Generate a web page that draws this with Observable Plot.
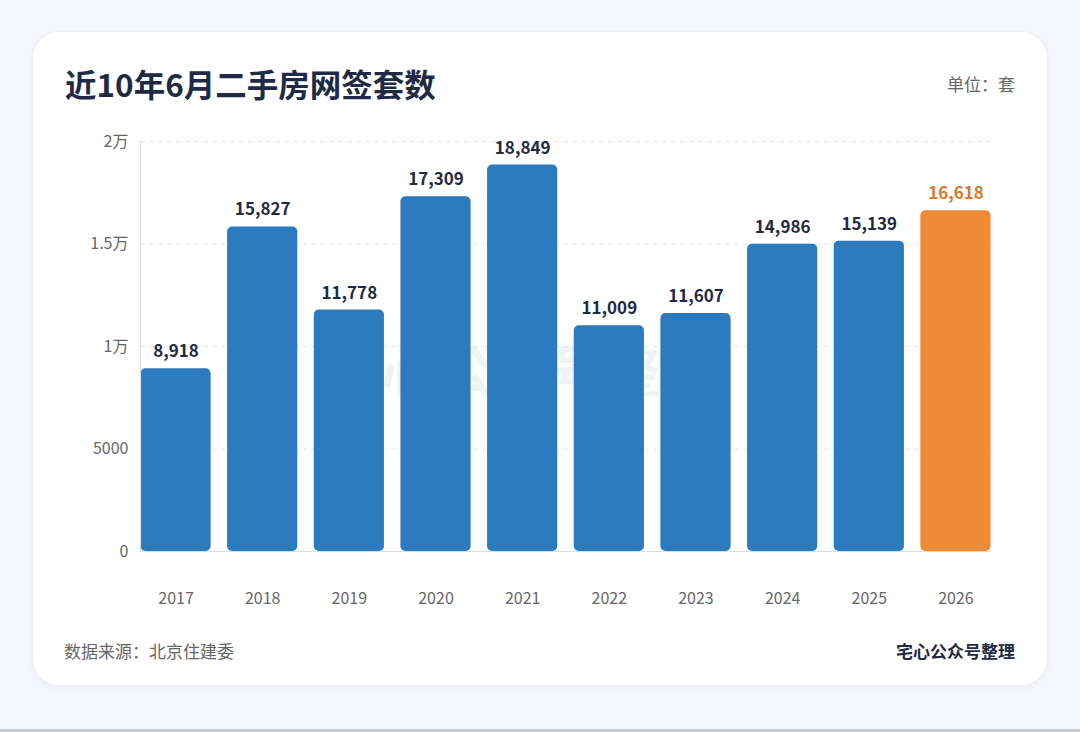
<!DOCTYPE html>
<html>
<head>
<meta charset="utf-8">
<script src="https://cdn.jsdelivr.net/npm/d3@7"></script>
<script src="https://cdn.jsdelivr.net/npm/@observablehq/plot@0.6"></script>
<style>
  html, body { margin: 0; padding: 0; }
  body { width: 1080px; height: 732px; background: #f5f6fb; position: relative; overflow: hidden;
         font-family: "Noto Sans CJK SC", "Noto Sans", sans-serif; }
  #card { position: absolute; left: 33px; top: 32px; width: 1014px; height: 653px; background: #fff;
          border-radius: 26px; box-shadow: 0 0 0 1px #eceef4, 0 2px 6px rgba(40,50,90,0.05); }
  #title { position: absolute; left: 32px; top: 28px; font-size: 31.5px; font-weight: 700; color: #1f2a44; line-height: 46px; }
  #unit { position: absolute; right: 32px; top: 40px; font-size: 17px; color: #666; line-height: 24px; }
  #source { position: absolute; left: 31px; top: 607px; font-size: 17px; color: #666; line-height: 24px; }
  #credit { position: absolute; right: 32px; top: 607px; font-size: 17px; font-weight: 700; color: #1f2a44; line-height: 24px; }
  #chart { position: absolute; left: 0; top: 88px; }
  #bottomline { position: absolute; left: 0; top: 729px; width: 1080px; height: 3px; background: #c9cbd3; }
</style>
</head>
<body>
<div id="card">
  <div id="chart"></div>
  <div id="title">近10年6月二手房网签套数</div>
  <div id="unit">单位：套</div>
  <div id="source">数据来源：北京住建委</div>
  <div id="credit">宅心公众号整理</div>
</div>
<div id="bottomline"></div>
<script>
const years = ["2017","2018","2019","2020","2021","2022","2023","2024","2025","2026"];
const counts = [8918, 15827, 11778, 17309, 18849, 11009, 11607, 14986, 15139, 16618];
const highlightYear = "2026";
const yTicks = [0, 5000, 10000, 15000, 20000];
const yTickLabels = ["0", "5000", "1万", "1.5万", "2万"];
const watermark = "宅心公众号整理";

const data = years.map((y, i) => ({year: y, value: counts[i], hi: y === highlightYear}));
const blue = "#2c7bbe", orange = "#ef8a36";

const chart = Plot.plot({
  width: 1014,
  height: 500,
  marginTop: 21,
  marginBottom: 69,
  marginLeft: 107,
  marginRight: 56,
  style: {fontFamily: '"Noto Sans CJK SC", "Noto Sans", sans-serif', background: "transparent", overflow: "visible"},
  x: {domain: years, paddingInner: 0.19, paddingOuter: 0.005, round: false, label: null},
  y: {domain: [0, 20000], label: null},
  marks: [
    Plot.text([watermark], {frameAnchor: "middle", text: d => d, dx: -45, dy: 28, fontSize: 56, fontWeight: 700, fill: "#f1f2f4"}),
    Plot.gridY(yTicks.slice(1), {stroke: "#e6e6e6", strokeOpacity: 1, strokeDasharray: "5,4"}),
    Plot.axisY({ticks: yTicks, tickFormat: d => yTickLabels[yTicks.indexOf(d)], tickSize: 0, tickPadding: 12, fontSize: 16, fill: "#666", label: null}),
    Plot.axisX({tickSize: 0, tickPadding: 41, fontSize: 16, fill: "#666", label: null}),
    Plot.barY(data, {x: "year", y: "value", fill: d => d.hi ? orange : blue, rx: 5}),
    Plot.ruleY([0], {stroke: "#dcdcdc", strokeWidth: 1.2}),
    Plot.frame({anchor: "left", stroke: "#dcdcdc", strokeWidth: 1.2}),
    Plot.text(data, {x: "year", y: "value", text: d => d3.format(",")(d.value), dy: -17, fontSize: 17, fontWeight: 700,
      fill: d => d.hi ? "#d9792b" : "#1f2a44"})
  ]
});
document.getElementById("chart").appendChild(chart);
</script>
</body>
</html>
